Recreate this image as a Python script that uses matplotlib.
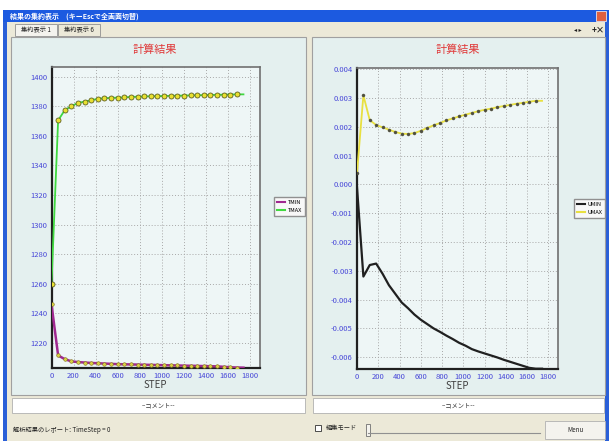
import matplotlib
matplotlib.use("Agg")
import matplotlib.pyplot as plt
from matplotlib.patches import Rectangle
from matplotlib.lines import Line2D

plt.rcParams['font.family'] = ['Noto Sans CJK JP', 'DejaVu Sans']

# ---------------- data ----------------
steps = [0, 60, 120, 180, 240, 300, 360, 420, 480, 540, 600, 660, 720, 780, 840,
         900, 960, 1020, 1080, 1140, 1200, 1260, 1320, 1380, 1440, 1500, 1560,
         1620, 1680, 1740]

tmax = [1260, 1370.4, 1377.3, 1380.0, 1382.2, 1383.1, 1384.0, 1385.0, 1385.4,
        1385.6, 1385.8, 1385.9, 1386.3, 1386.4, 1386.6, 1386.7, 1386.8, 1386.9,
        1387.0, 1387.1, 1387.2, 1387.3, 1387.4, 1387.5, 1387.6, 1387.7, 1387.8,
        1387.9, 1388.0, 1388.0]
tmin = [1246, 1211.5, 1209.0, 1207.5, 1207.0, 1206.7, 1206.4, 1206.2, 1206.0,
        1205.8, 1205.6, 1205.5, 1205.4, 1205.3, 1205.2, 1205.1, 1205.0, 1204.9,
        1204.8, 1204.7, 1204.6, 1204.5, 1204.4, 1204.3, 1204.2, 1204.1, 1203.8,
        1203.5, 1203.3, 1203.2]

umax = [0.0004, 0.00309, 0.00223, 0.00206, 0.00198, 0.0019, 0.00182, 0.00176,
        0.00175, 0.00178, 0.00186, 0.00196, 0.00205, 0.00213, 0.00222, 0.00229,
        0.00236, 0.00242, 0.00248, 0.00254, 0.00259, 0.00263, 0.00268, 0.00272,
        0.00276, 0.0028, 0.00283, 0.00287, 0.0029, 0.0029]
umin = [-0.0001, -0.0032, -0.0028, -0.00275, -0.0031, -0.0035, -0.0038, -0.0041,
        -0.0043, -0.00452, -0.0047, -0.00485, -0.005, -0.00512, -0.00525,
        -0.00537, -0.0055, -0.0056, -0.00572, -0.0058, -0.00587, -0.00594,
        -0.00601, -0.00609, -0.00616, -0.00623, -0.0063, -0.00637, -0.0064,
        -0.0064]

x_ticks = [0, 200, 400, 600, 800, 1000, 1200, 1400, 1600, 1800]
left_yticks = [1220, 1240, 1260, 1280, 1300, 1320, 1340, 1360, 1380, 1400]
right_yticks = [-0.006, -0.005, -0.004, -0.003, -0.002, -0.001, 0.0,
                0.001, 0.002, 0.003, 0.004]
right_ylabels = ["-0.006", "-0.005", "-0.004", "-0.003", "-0.002", "-0.001",
                 "0.000", "0.001", "0.002", "0.003", "0.004"]

title_text = "計算結果"
window_title = "結果の集約表示　(キーEscで全画面切替)"
tab_labels = ["集約表示 1", "集約表示 6"]
comment_text = "--コメント--"
status_text = "解析結果のレポート: TimeStep = 0"

# ---------------- figure ----------------
W, H = 612, 441
fig = plt.figure(figsize=(W / 100, H / 100), dpi=100)
fig.patch.set_facecolor("white")


def frac(x, y, w, h):
    return [x / W, 1 - (y + h) / H, w / W, h / H]


def box(x, y, w, h, fc, ec="none", lw=0.8, z=0):
    r = Rectangle((x / W, 1 - (y + h) / H), w / W, h / H, transform=fig.transFigure,
                  facecolor=fc, edgecolor=ec, linewidth=lw, zorder=z)
    fig.add_artist(r)


def ftext(x, y, s, **kw):
    fig.text(x / W, 1 - y / H, s, **kw)


# window chrome
box(3, 10, 606, 431, "#ece9d8")
box(3, 10, 4, 431, "#2a5fd8")
box(605, 10, 4, 431, "#2a5fd8")
box(3, 10, 606, 12, "#1c5ae0")
box(596, 11, 10, 10, "#e06040", ec="white", lw=0.5)
ftext(10, 16.5, window_title, fontsize=5, color="white", va="center", fontweight="bold")
# tabs
box(15, 24, 42, 12, "#f4f3ee", ec="#909090", lw=0.6)
box(58, 24, 42, 12, "#ece9d8", ec="#909090", lw=0.6)
ftext(36, 30, tab_labels[0], fontsize=4.5, color="#202020", ha="center", va="center")
ftext(79, 30, tab_labels[1], fontsize=4.5, color="#202020", ha="center", va="center")
ftext(578, 30, "◂ ▸", fontsize=4.5, color="#202020", ha="center", va="center")
ftext(598, 30, "+×", fontsize=6, color="#202020", ha="center", va="center",
      fontweight="bold")

# panels
panels = [(11, 295), (312, 293)]
for px, pw in panels:
    box(px, 37, pw, 358, "#e4f0ef", ec="#a0a0a0", lw=0.8)
    box(px + 1, 398, pw - 2, 15, "white", ec="#b0b0b0", lw=0.6)
    ftext(px + pw / 2, 405.5, comment_text, fontsize=4.5, color="#303030",
          ha="center", va="center")

# status bar
box(7, 416, 598, 25, "#ece9d8")
ftext(13, 430, status_text, fontsize=4.5, color="#202020", va="center")
box(315, 425, 6, 6, "white", ec="#303030", lw=0.6)
ftext(326, 428, "編集モード", fontsize=4.5, color="#202020", va="center")
fig.add_artist(Line2D([368 / W, 540 / W], [1 - 433 / H, 1 - 433 / H],
                      transform=fig.transFigure, color="#909090", lw=0.8))
box(366, 424, 4, 12, "#f4f3ee", ec="#707070", lw=0.6)
box(545, 421, 60, 18, "#f4f3ee", ec="#b0b0b0", lw=0.6)
ftext(575, 430, "Menu", fontsize=4.5, color="#202020", ha="center", va="center")

tick_color = "#4848d8"


def style_axes(ax):
    ax.set_facecolor("#eef6f6")
    ax.grid(True, color="#a8a8a8", linestyle=(0, (1, 2)), linewidth=0.7)
    ax.set_axisbelow(True)
    ax.tick_params(length=0, labelsize=5.5, labelcolor=tick_color, pad=3)
    ax.spines["left"].set_color("#202020")
    ax.spines["bottom"].set_color("#202020")
    ax.spines["left"].set_linewidth(1.6)
    ax.spines["bottom"].set_linewidth(1.6)
    ax.spines["top"].set_color("#707070")
    ax.spines["right"].set_color("#707070")
    ax.spines["top"].set_linewidth(1.2)
    ax.spines["right"].set_linewidth(1.2)
    ax.set_xlim(0, 1890)
    ax.set_xticks(x_ticks)
    ax.set_xlabel("STEP", fontsize=7, color="#404040", labelpad=0)


mk = slice(0, len(steps) - 1)

# left chart
axL = fig.add_axes(frac(51.5, 67, 208.5, 301))
style_axes(axL)
axL.plot(steps, tmin, color="#a02890", lw=1.8, marker="o", markersize=2.6,
         markerfacecolor="#d8d040", markeredgecolor="#807020", markeredgewidth=0.4,
         markevery=mk, zorder=3)
axL.plot(steps, tmax, color="#40d840", lw=1.3, marker="o", markersize=3.6,
         markerfacecolor="#e8e030", markeredgecolor="#606020", markeredgewidth=0.6,
         markevery=mk, zorder=4)
axL.set_ylim(1203, 1406.5)
axL.set_yticks(left_yticks)
ftext(155, 50, title_text, fontsize=8, color="#e03838", ha="center", va="center")
hL = [Line2D([], [], color="#a02890", lw=1.5), Line2D([], [], color="#40d840", lw=1.5)]
fig.legend(hL, ["TMIN", "TMAX"], loc="upper left",
           bbox_to_anchor=(271.5 / W, 1 - 194 / H), bbox_transform=fig.transFigure,
           fontsize=4, handlelength=1.5, handletextpad=0.4, borderpad=0.5,
           labelspacing=0.6, frameon=True, fancybox=False, edgecolor="#909090",
           facecolor="#f8f8f8", framealpha=1)

# right chart
axR = fig.add_axes(frac(357, 68, 201, 301))
style_axes(axR)
axR.plot(steps, umin, color="#202020", lw=1.6, zorder=3)
axR.plot(steps, umax, color="#e8e040", lw=1.3, marker="o", markersize=2.2,
         markerfacecolor="#505040", markeredgecolor="#505040", markeredgewidth=0.3,
         markevery=mk, zorder=4)
axR.set_ylim(-0.00641, 0.00404)
axR.set_yticks(right_yticks)
axR.set_yticklabels(right_ylabels)
ftext(458, 50, title_text, fontsize=8, color="#e03838", ha="center", va="center")
hR = [Line2D([], [], color="#202020", lw=1.5), Line2D([], [], color="#e8e040", lw=1.5)]
fig.legend(hR, ["UMIN", "UMAX"], loc="upper left",
           bbox_to_anchor=(571 / W, 1 - 196 / H), bbox_transform=fig.transFigure,
           fontsize=4, handlelength=1.5, handletextpad=0.4, borderpad=0.5,
           labelspacing=0.6, frameon=True, fancybox=False, edgecolor="#909090",
           facecolor="#f8f8f8", framealpha=1)

fig.savefig("out.png", dpi=100)
